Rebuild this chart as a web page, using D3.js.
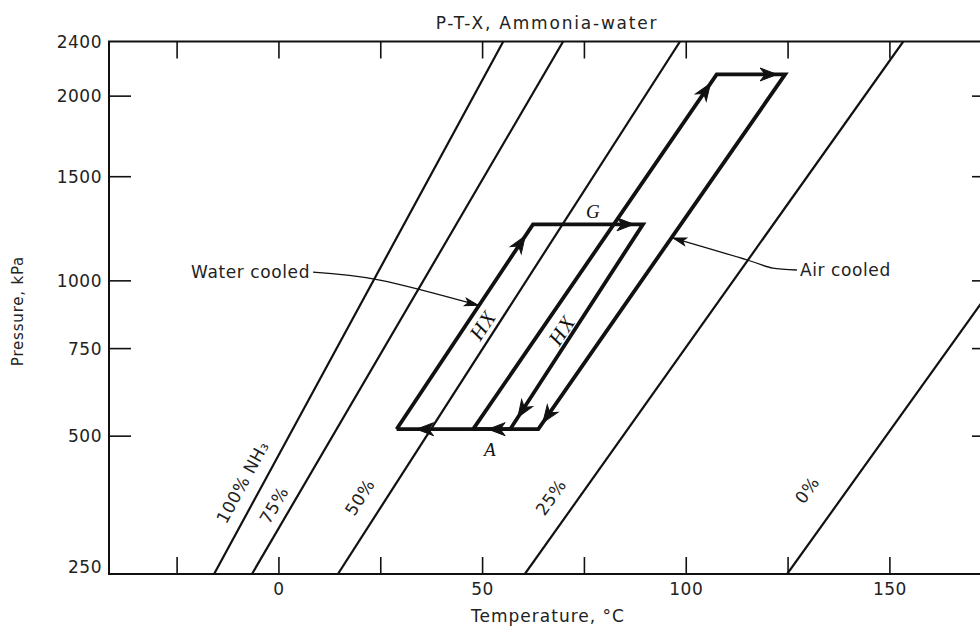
<!DOCTYPE html>
<html><head><meta charset="utf-8">
<script src="https://cdn.jsdelivr.net/npm/d3@7"></script>
<style>body{margin:0;background:#fff;} svg{display:block;}</style>
</head><body>
<svg id="chart" width="980" height="628"></svg>
<script>
// ---- data ----
const xTicks = [-25, 0, 25, 50, 75, 100, 125, 150];
const xTickLabels = [0, 50, 100, 150];
const yTickMarks = [500, 750, 1000, 1500, 2000];
const yTickLabels = [250, 500, 750, 1000, 1500, 2000, 2400];

const isoNames = ["100% NH\u2083", "75%", "50%", "25%", "0%"];
const isoTBottom = [-15.8, -6.5, 14.6, 60.5, 124.9];   // °C at axis bottom (239 kPa)
const isoTTop = [55.2, 69.9, 98.6, 153.4, 218.6];      // °C at 2400 kPa
const isoLabelT = [-8.8, -1.1, 20.0, 66.9, 129.8];
const isoLabelP = [396, 351, 366, 366, 380];

const waterT = [29.0, 62.5, 89.5, 56.9];
const waterP = [516, 1250, 1250, 516];
const airT = [47.8, 107.6, 124.4, 63.8];
const airP = [516, 2150, 2150, 516];

const waterLeaderT = [8.5, 24.9, 49.0];
const waterLeaderP = [1034, 1001, 902];
const airLeaderT = [127.3, 121.4, 115.1, 96.9];
const airLeaderP = [1043, 1051, 1086, 1185];

const cycleLabels = ["HX", "HX", "G", "A"];
const cycleLabelT = [50.2, 69.6, 77.2, 51.9];
const cycleLabelP = [829, 811, 1311, 466];

// ---- scales ----
const P_MIN = 239, P_MAX = 2400, T_MIN = -41.6, T_MAX = 174.7;
const x = d3.scaleLinear().domain([T_MIN, T_MAX]).range([109, 990]);
const y = d3.scalePow().exponent(0.25).domain([P_MIN, P_MAX]).range([574, 41.5]);

const svg = d3.select("#chart");
const FONT = "DejaVu Sans, Verdana, sans-serif";
const X0 = x(T_MIN), X1 = x(T_MAX), Y0 = y(P_MIN), Y1 = y(P_MAX);

svg.append("defs").append("clipPath").attr("id", "plotclip")
  .append("rect").attr("x", X0).attr("y", Y1).attr("width", X1 - X0).attr("height", Y0 - Y1);

// frame
svg.append("rect").attr("x", X0).attr("y", Y1).attr("width", X1 - X0).attr("height", Y0 - Y1)
  .attr("fill", "none").attr("stroke", "#111").attr("stroke-width", 2);

// axes
const axB = svg.append("g").attr("transform", `translate(0,${Y0})`)
  .call(d3.axisBottom(x).tickValues(xTicks).tickSize(-17).tickPadding(9)
    .tickFormat(d => xTickLabels.includes(d) ? d : ""));
const axT = svg.append("g").attr("transform", `translate(0,${Y1})`)
  .call(d3.axisTop(x).tickValues(xTicks).tickSize(-17).tickFormat(""));
const axL = svg.append("g").attr("transform", `translate(${X0},0)`)
  .call(d3.axisLeft(y).tickValues(yTickLabels).tickSize(-22).tickPadding(7).tickFormat(d => d));
const axR = svg.append("g").attr("transform", `translate(${X1},0)`)
  .call(d3.axisRight(y).tickValues(yTickMarks).tickSize(-18).tickFormat(""));
axL.selectAll(".tick").filter(d => !yTickMarks.includes(d)).select("line").remove();
[axB, axT, axL, axR].forEach(a => {
  a.select(".domain").remove();
  a.selectAll(".tick line").attr("stroke", "#111").attr("stroke-width", 1.6);
  a.selectAll("text").attr("font-family", FONT).attr("font-size", 17)
    .attr("letter-spacing", "0.5px").attr("fill", "#222");
});
axL.selectAll("text").attr("dy", "0.36em");

// title & axis titles
svg.append("text").attr("x", 547).attr("y", 29).attr("text-anchor", "middle")
  .attr("font-family", FONT).attr("font-size", 17).attr("letter-spacing", "1.8px").attr("fill", "#222")
  .text("P-T-X, Ammonia-water");
svg.append("text").attr("x", 548).attr("y", 622).attr("text-anchor", "middle")
  .attr("font-family", FONT).attr("font-size", 17).attr("letter-spacing", "1px").attr("fill", "#222")
  .text("Temperature, \u00B0C");
svg.append("text").attr("transform", "translate(23,311) rotate(-90)").attr("text-anchor", "middle")
  .attr("font-family", FONT).attr("font-size", 15).attr("letter-spacing", "0.8px").attr("fill", "#222")
  .text("Pressure, kPa");

// isopleths
const plot = svg.append("g").attr("clip-path", "url(#plotclip)");
isoNames.forEach((n, i) => {
  plot.append("line")
    .attr("x1", x(isoTBottom[i])).attr("y1", y(P_MIN))
    .attr("x2", x(isoTTop[i])).attr("y2", y(P_MAX))
    .attr("stroke", "#111").attr("stroke-width", 2.2);
  const ang = Math.atan2(y(P_MAX) - y(P_MIN), x(isoTTop[i]) - x(isoTBottom[i])) * 180 / Math.PI;
  svg.append("text")
    .attr("transform", `translate(${x(isoLabelT[i])},${y(isoLabelP[i])}) rotate(${ang})`)
    .attr("text-anchor", "middle").attr("dominant-baseline", "central")
    .attr("font-family", FONT).attr("font-size", 17).attr("letter-spacing", "0.5px").attr("fill", "#222")
    .text(n);
});

// arrowhead helper
function arrowHead(g, x1, y1, x2, y2, back, len, hw, notch) {
  const a = Math.atan2(y2 - y1, x2 - x1);
  const tx = x2 - Math.cos(a) * back, ty = y2 - Math.sin(a) * back;
  g.append("path")
    .attr("d", `M0,0 L${-len},${-hw} L${-len + notch},0 L${-len},${hw} Z`)
    .attr("transform", `translate(${tx},${ty}) rotate(${a * 180 / Math.PI})`)
    .attr("fill", "#111").attr("stroke", "#111").attr("stroke-width", 1).attr("stroke-linejoin", "miter");
}

// cycles
function drawCycle(T, P, backs) {
  const pts = T.map((t, i) => [x(t), y(P[i])]);
  const g = svg.append("g");
  g.append("path").attr("d", d3.line()(pts.concat([pts[0]])))
    .attr("fill", "none").attr("stroke", "#111").attr("stroke-width", 3.8)
    .attr("stroke-linejoin", "miter");
  pts.forEach((p, i) => {
    const q = pts[(i + 1) % pts.length];
    arrowHead(g, p[0], p[1], q[0], q[1], backs[i], 17, 6.5, 5);
  });
}
drawCycle(waterT, waterP, [14, 9, 14, 20]);
drawCycle(airT, airP, [11, 8, 8, 15]);

// cycle labels
cycleLabels.forEach((s, i) => {
  const isHX = s === "HX";
  const ang = isHX ? -56.5 : 0;
  svg.append("text")
    .attr("transform", `translate(${x(cycleLabelT[i])},${y(cycleLabelP[i])}) rotate(${ang})`)
    .attr("text-anchor", "middle").attr("dominant-baseline", "central")
    .attr("font-family", "Liberation Serif, Times New Roman, serif").attr("font-style", "italic")
    .attr("font-size", isHX ? 21 : 19).attr("letter-spacing", isHX ? "1.5px" : "0px").attr("fill", "#111")
    .text(s);
});

// leaders
function drawLeader(T, P) {
  const pts = T.map((t, i) => [x(t), y(P[i])]);
  svg.append("path").attr("d", d3.line().curve(d3.curveNatural)(pts))
    .attr("fill", "none").attr("stroke", "#111").attr("stroke-width", 1.3);
  const a = pts[pts.length - 2], b = pts[pts.length - 1];
  arrowHead(svg, a[0], a[1], b[0], b[1], 0, 13, 3.8, 3);
  return pts;
}
const wl = drawLeader(waterLeaderT, waterLeaderP);
const al = drawLeader(airLeaderT, airLeaderP);
svg.append("text").attr("x", wl[0][0] - 3).attr("y", wl[0][1]).attr("text-anchor", "end")
  .attr("dominant-baseline", "central")
  .attr("font-family", FONT).attr("font-size", 17).attr("letter-spacing", "0.6px").attr("fill", "#222")
  .text("Water cooled");
svg.append("text").attr("x", al[0][0] + 3).attr("y", al[0][1]).attr("text-anchor", "start")
  .attr("dominant-baseline", "central")
  .attr("font-family", FONT).attr("font-size", 17).attr("letter-spacing", "0.6px").attr("fill", "#222")
  .text("Air cooled");
</script>
</body></html>
